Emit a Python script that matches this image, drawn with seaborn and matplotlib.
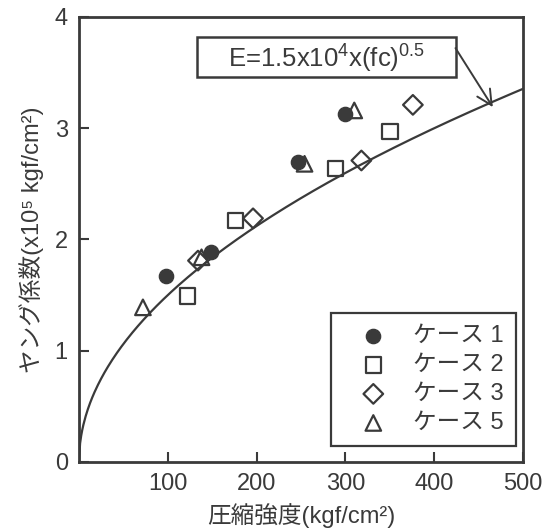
import matplotlib
matplotlib.use("Agg")

import matplotlib.pyplot as plt
import numpy as np
import pandas as pd
import seaborn as sns
from matplotlib.patches import Rectangle


# data (fc in kgf/cm2, E in 1e5 kgf/cm2)
case1_fc = [98, 149, 247, 300]
case1_e = [1.67, 1.89, 2.70, 3.13]

case2_fc = [122, 176, 289, 350]
case2_e = [1.49, 2.17, 2.64, 2.97]

case3_fc = [134, 196, 318, 376]
case3_e = [1.81, 2.19, 2.71, 3.21]

case5_fc = [72, 138, 254, 310]
case5_e = [1.39, 1.84, 2.68, 3.16]

case_labels = ["ケース 1", "ケース 2", "ケース 3", "ケース 5"]
x_ticks = [100, 200, 300, 400, 500]
y_ticks = [0, 1, 2, 3, 4]

INK = "#3a3a3a"
FS = 17

sns.set_theme(style="ticks")
plt.rcParams["font.family"] = ["Liberation Sans", "Noto Sans CJK JP", "DejaVu Sans"]
plt.rcParams["text.color"] = INK
plt.rcParams["axes.labelcolor"] = INK
plt.rcParams["xtick.color"] = INK
plt.rcParams["ytick.color"] = INK

df = pd.concat([
    pd.DataFrame({"fc": case1_fc, "E": case1_e, "case": case_labels[0]}),
    pd.DataFrame({"fc": case2_fc, "E": case2_e, "case": case_labels[1]}),
    pd.DataFrame({"fc": case3_fc, "E": case3_e, "case": case_labels[2]}),
    pd.DataFrame({"fc": case5_fc, "E": case5_e, "case": case_labels[3]}),
], ignore_index=True)

fig = plt.figure(figsize=(5.5, 5.32), dpi=100)
ax = fig.add_axes([0.1436, 0.1316, 0.8073, 0.8365])

# fitted curve E = 1.5e4 * fc^0.5
fc_line = np.linspace(0, 500, 400)
curve = pd.DataFrame({"fc": fc_line, "E": 1.5e4 * np.sqrt(fc_line) / 1e5})
sns.lineplot(data=curve, x="fc", y="E", color=INK, linewidth=1.6, ax=ax)

styles = {
    case_labels[0]: dict(marker="o", s=105, facecolor=INK, edgecolor=INK, linewidth=1.0),
    case_labels[1]: dict(marker="s", s=125, facecolor="none", edgecolor=INK, linewidth=1.6),
    case_labels[2]: dict(marker="D", s=100, facecolor="none", edgecolor=INK, linewidth=1.6),
    case_labels[3]: dict(marker="^", s=125, facecolor="none", edgecolor=INK, linewidth=1.6),
}
for name in case_labels:
    sub = df[df["case"] == name]
    sns.scatterplot(data=sub, x="fc", y="E", label=name, ax=ax, **styles[name])

ax.set_xlim(0, 500)
ax.set_ylim(0, 4)
ax.set_xticks(x_ticks)
ax.set_yticks(y_ticks)
ax.tick_params(direction="in", length=7, width=1.5, labelsize=FS, pad=8)
for side in ["top", "right", "bottom", "left"]:
    ax.spines[side].set_visible(True)
    ax.spines[side].set_linewidth(2.0)
    ax.spines[side].set_color(INK)

ax.set_xlabel("圧縮強度(kgf/cm²)", fontsize=FS, labelpad=6)
ax.set_ylabel("ヤング係数(x10⁵ kgf/cm²)", fontsize=FS, labelpad=8)

leg = ax.legend(loc="lower right", bbox_to_anchor=(0.984, 0.036), fontsize=FS,
                frameon=True, fancybox=False, framealpha=1, edgecolor=INK,
                handlelength=2.6, handletextpad=0.4, labelspacing=0.3,
                borderpad=0.5, borderaxespad=0)
leg.get_frame().set_linewidth(1.6)

# equation box with arrow to the curve
ax.add_patch(Rectangle((133, 3.46), 291, 0.36, facecolor="white", edgecolor=INK,
                       linewidth=1.8, zorder=3))
ax.text(279, 3.62, r"E=1.5x10$\mathregular{^4}$x(fc)$\mathregular{^{0.5}}$",
        ha="center", va="center", fontsize=18.5, zorder=4)
ax.annotate("", xy=(466, 3.19), xytext=(424, 3.72),
            arrowprops=dict(arrowstyle="->,head_length=0.9,head_width=0.45", color=INK,
                            linewidth=1.4, shrinkA=0, shrinkB=0))

fig.savefig("out.png", dpi=100, facecolor="white")
